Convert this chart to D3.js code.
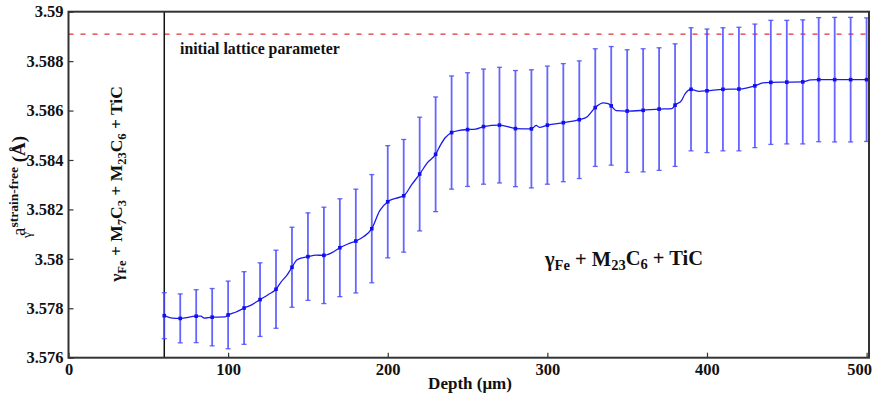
<!DOCTYPE html>
<html><head><meta charset="utf-8">
<script src="https://cdn.jsdelivr.net/npm/d3@7"></script>
<style>body{margin:0;background:#fff}svg{display:block}text{font-family:"Liberation Serif","Times New Roman",serif}</style>
</head><body><svg id="c" width="875" height="396"></svg>
<script>
// marker data (every 10 µm)
const depths = [60,70,80,90,100,110,120,130,140,150,160,170,180,190,200,210,220,230,240,250,260,270,280,290,300,310,320,330,340,350,360,370,380,390,400,410,420,430,440,450,460,470,480,490,500];
const means  = [3.57770,3.57759,3.57768,3.57764,3.57773,3.57801,3.57835,3.57877,3.57966,3.58009,3.58014,3.58045,3.58072,3.58122,3.58231,3.58255,3.58343,3.58423,3.58511,3.58523,3.58535,3.58541,3.58527,3.58526,3.58541,3.58551,3.58563,3.58612,3.58619,3.58598,3.58601,3.58606,3.58622,3.58686,3.58680,3.58686,3.58687,3.58700,3.58714,3.58715,3.58716,3.58725,3.58725,3.58725,3.58725];
const errors = [0.00093,0.00099,0.00107,0.00116,0.00137,0.00147,0.00149,0.00158,0.00162,0.00177,0.00195,0.00198,0.00210,0.00219,0.00227,0.00228,0.00230,0.00232,0.00229,0.00230,0.00233,0.00234,0.00235,0.00239,0.00239,0.00239,0.00238,0.00238,0.00240,0.00248,0.00249,0.00248,0.00248,0.00249,0.00250,0.00249,0.00250,0.00250,0.00251,0.00250,0.00251,0.00251,0.00252,0.00252,0.00250];
// continuous trace
const traceDepth = [60,65,70,80,83,85,90,98,100,105,110,115,120,125,130,133,137,140,143,147,150,155,160,165,170,175,180,185,190,195,200,205,210,215,220,225,230,233,236,240,245,250,255,260,270,275,280,290,293,295,300,310,320,325,330,335,338,340,343,350,360,370,378,380,384,386,390,395,400,410,420,430,435,440,450,460,465,470,500];
const traceValue = [3.57770,3.57760,3.57759,3.57768,3.57768,3.57760,3.57764,3.57765,3.57773,3.57785,3.57801,3.57815,3.57835,3.57855,3.57877,3.57905,3.57935,3.57966,3.57995,3.58005,3.58009,3.58015,3.58014,3.58025,3.58045,3.58060,3.58072,3.58090,3.58122,3.58195,3.58231,3.58245,3.58255,3.58300,3.58343,3.58390,3.58423,3.58460,3.58490,3.58511,3.58520,3.58523,3.58525,3.58535,3.58541,3.58535,3.58527,3.58526,3.58540,3.58532,3.58541,3.58551,3.58563,3.58575,3.58612,3.58631,3.58628,3.58619,3.58600,3.58598,3.58601,3.58606,3.58608,3.58622,3.58640,3.58665,3.58686,3.58678,3.58680,3.58686,3.58687,3.58700,3.58712,3.58714,3.58715,3.58716,3.58724,3.58725,3.58725];
const xTicks = [0,100,200,300,400,500];
const yTicks = [3.576,3.578,3.58,3.582,3.584,3.586,3.588,3.59];
const yTickLabels = ["3.576","3.578","3.58","3.582","3.584","3.586","3.588","3.59"];
const initialLattice = 3.58909;
const boundaryDepth = 60;

const SERIF = '"Liberation Serif","Times New Roman",serif';
const svg = d3.select("#c");
const L=68.5, R=869, T=11.7, B=357.7;
const x = d3.scaleLinear().domain([0,501.5]).range([L,R]);
const y = d3.scaleLinear().domain([3.576,3.59]).range([B,T]);

// axes
const xAxis = d3.axisBottom(x).tickValues(xTicks).tickSize(-5).tickPadding(9).tickFormat(d3.format("d"));
const gx = svg.append("g").attr("transform",`translate(0,${B})`).call(xAxis);
const yAxis = d3.axisLeft(y).tickValues(yTicks).tickSize(-5).tickPadding(5).tickFormat((d,i)=>yTickLabels[i]);
const gy = svg.append("g").attr("transform",`translate(${L},0)`).call(yAxis);
[gx,gy].forEach(g=>{
  g.attr("font-family",SERIF);
  g.select(".domain").remove();
  g.selectAll(".tick line").attr("stroke","#333").attr("stroke-width",1.2);
  g.selectAll("text").attr("fill","#111").style("font-family",SERIF).style("font-size","16.5px").style("font-weight","bold");
});
gx.selectAll("text").attr("dy","0.5em");
gx.selectAll(".tick").filter(d=>d===500).select("text").attr("text-anchor","end").attr("x",5);

// dashed initial lattice line
svg.append("line").attr("x1",L).attr("x2",R).attr("y1",y(initialLattice)).attr("y2",y(initialLattice))
  .attr("stroke","#e0303a").attr("stroke-width",1.3).attr("stroke-dasharray","5,7");

// vertical boundary
svg.append("line").attr("x1",x(boundaryDepth)).attr("x2",x(boundaryDepth)).attr("y1",T).attr("y2",B)
  .attr("stroke","#111").attr("stroke-width",1.5);

// error bars
const eb = svg.append("g").attr("stroke","#4a4aff").attr("stroke-opacity",0.85);
depths.forEach((d,i)=>{
  const cx=x(d), y1=y(means[i]+errors[i]), y2=y(means[i]-errors[i]);
  eb.append("line").attr("x1",cx).attr("x2",cx).attr("y1",y1).attr("y2",y2).attr("stroke-width",1.8);
  eb.append("line").attr("x1",cx-2.5).attr("x2",cx+2.5).attr("y1",y1).attr("y2",y1).attr("stroke-width",1.3);
  eb.append("line").attr("x1",cx-2.5).attr("x2",cx+2.5).attr("y1",y2).attr("y2",y2).attr("stroke-width",1.3);
});

// trace line
const line = d3.line().x(d=>x(d[0])).y(d=>y(d[1])).curve(d3.curveMonotoneX);
svg.append("path").datum(traceDepth.map((d,i)=>[d,traceValue[i]]))
  .attr("d",line).attr("fill","none").attr("stroke","#1a1aee").attr("stroke-width",1.3);

// markers
svg.append("g").selectAll("rect").data(depths).join("rect")
  .attr("x",(d)=>x(d)-1.8).attr("y",(d,i)=>y(means[i])-1.8).attr("width",3.6).attr("height",3.6).attr("fill","#1010ee");

// frame
svg.append("rect").attr("x",L).attr("y",T).attr("width",R-L).attr("height",B-T)
  .attr("fill","none").attr("stroke","#333").attr("stroke-width",2);

// axis title
svg.append("text").attr("x",470).attr("y",389).attr("text-anchor","middle")
  .style("font-size","17px").style("font-weight","bold").attr("fill","#111").text("Depth (μm)");

// y title
const yt = svg.append("g").attr("transform","translate(25,186) rotate(-90)");
const ytt = yt.append("text").attr("text-anchor","middle").attr("fill","#111").style("font-size","19px");
ytt.append("tspan").text("a");
ytt.append("tspan").attr("dy",-7).style("font-size","13.5px").style("font-weight","bold").text("strain-free");
ytt.append("tspan").attr("dy",7).style("font-weight","bold").text(" (Å)");
yt.append("text").attr("x",-52).attr("y",6).attr("fill","#111").style("font-size","13.5px").text("γ");

// annotations
svg.append("text").attr("x",180).attr("y",54).style("font-size","15.8px").style("font-weight","bold").attr("fill","#111").text("initial lattice parameter");

function phase(g, parts, fs, ss){
  const t = g.append("text").attr("fill","#111").style("font-weight","bold").style("font-size",fs+"px");
  parts.forEach(p=>{
    const s = t.append("tspan").text(p[0]);
    if(p[1]==="sub") s.attr("dy",4).style("font-size",ss+"px");
    else s.attr("dy",p[2]||0);
  });
  return t;
}
const g1 = svg.append("g").attr("transform","translate(122,184) rotate(-90)");
phase(g1,[["γ"],["Fe","sub"],[" + M",null,-4],["7","sub"],["C",null,-4],["3","sub"],[" + M",null,-4],["23","sub"],["C",null,-4],["6","sub"],[" + TiC",null,-4]],17.5,12.5).attr("text-anchor","middle");

const g2 = svg.append("g").attr("transform","translate(545,266)");
phase(g2,[["γ"],["Fe","sub"],[" + M",null,-4.5],["23","sub"],["C",null,-4.5],["6","sub"],[" + TiC",null,-4.5]],20.5,14.5);
</script></body></html>
